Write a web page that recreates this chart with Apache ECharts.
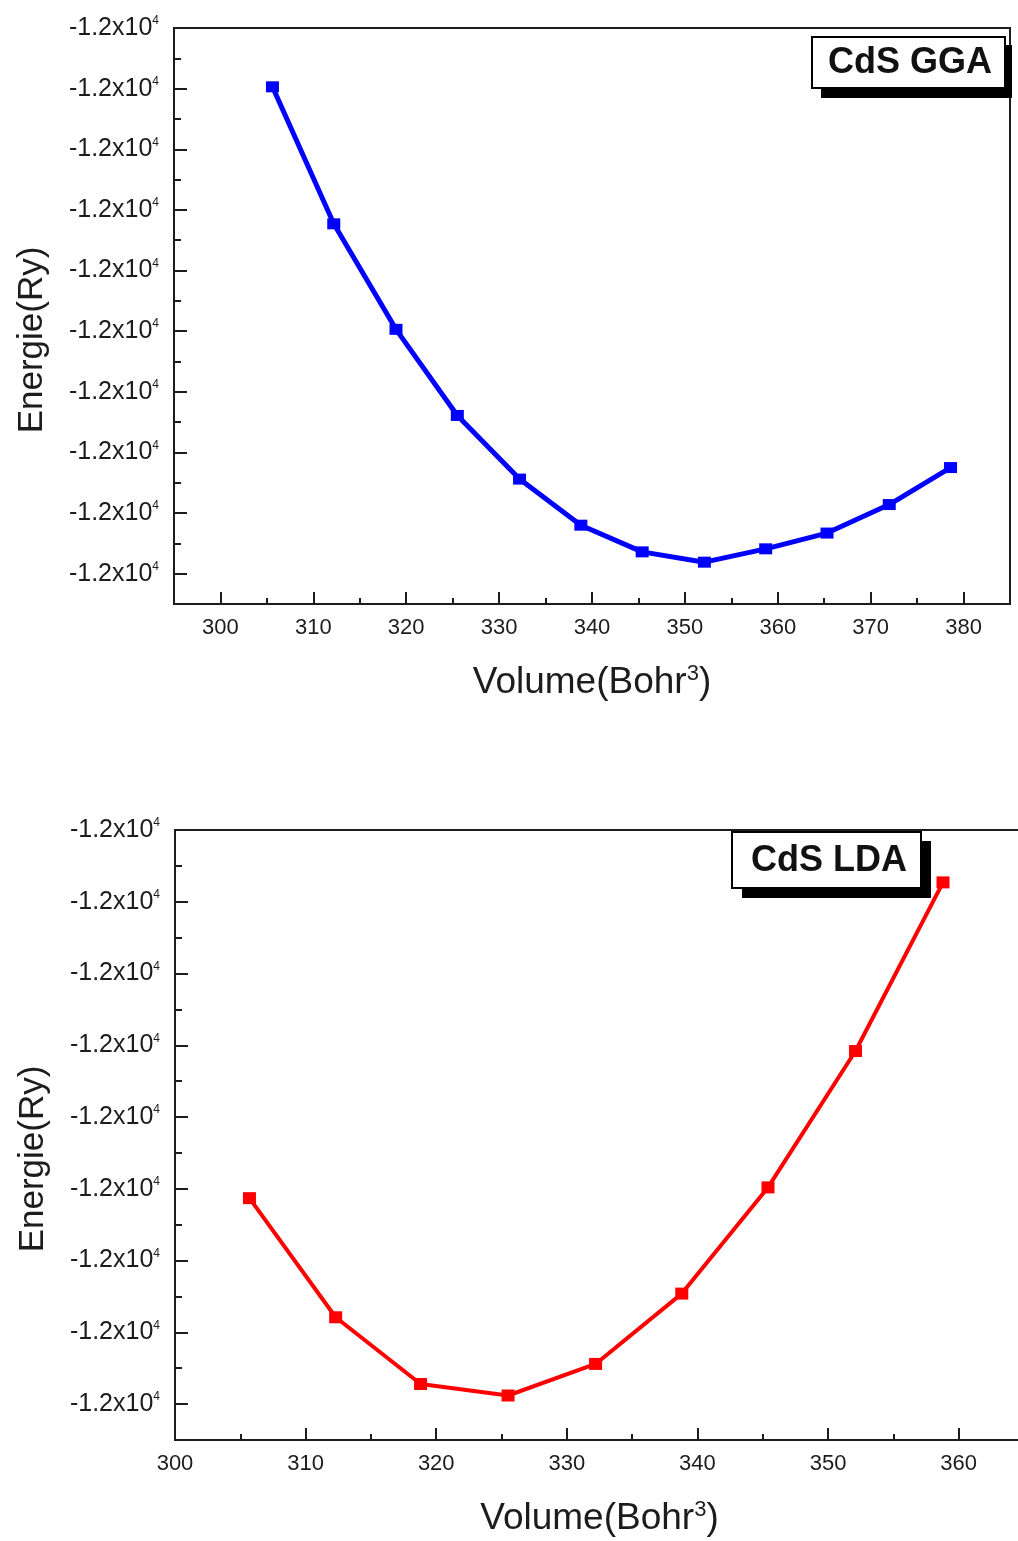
<!DOCTYPE html>
<html>
<head>
<meta charset="utf-8">
<title>CdS Energie-Volume</title>
<script src="https://cdn.jsdelivr.net/npm/echarts@6/dist/echarts.min.js"></script>
<style>
  html, body { margin: 0; padding: 0; background: #ffffff; }
  #chart { width: 1018px; height: 1541px; }
</style>
</head>
<body>
<div id="chart"></div>
<script>
// ---- GGA data (Volume in Bohr^3, total energy in Ry) ----
const volumeGGA = [305.6, 312.2, 318.9, 325.5, 332.2, 338.8, 345.4, 352.1, 358.7, 365.3, 372.0, 378.6];
const energyGGA = [-11990.0097, -11990.0323, -11990.0497, -11990.0639, -11990.0744, -11990.0820,
                   -11990.0864, -11990.0881, -11990.0859, -11990.0833, -11990.0786, -11990.0725];

// ---- LDA data ----
const volumeLDA = [305.7, 312.3, 318.8, 325.5, 332.2, 338.8, 345.4, 352.1, 358.8];
const energyLDA = [-11976.0513, -11976.0679, -11976.0772, -11976.0788, -11976.0744,
                   -11976.0646, -11976.0498, -11976.0308, -11976.0073];

// ---- axis ticks ----
const volumeTicksGGA = [300, 310, 320, 330, 340, 350, 360, 370, 380];
const volumeMinorGGA = [305, 315, 325, 335, 345, 355, 365, 375];
const energyTicksGGA = [-11990.00, -11990.01, -11990.02, -11990.03, -11990.04,
                        -11990.05, -11990.06, -11990.07, -11990.08, -11990.09];
const energyMinorGGA = [-11990.005, -11990.015, -11990.025, -11990.035, -11990.045,
                        -11990.055, -11990.065, -11990.075, -11990.085];

const volumeTicksLDA = [300, 310, 320, 330, 340, 350, 360];
const volumeMinorLDA = [305, 315, 325, 335, 345, 355];
const energyTicksLDA = [-11976.00, -11976.01, -11976.02, -11976.03, -11976.04,
                        -11976.05, -11976.06, -11976.07, -11976.08];
const energyMinorLDA = [-11976.005, -11976.015, -11976.025, -11976.035, -11976.045,
                        -11976.055, -11976.065, -11976.075];

// ---- texts ----
const energyTickMantissa = '-1.2x10';
const energyTickExponent = '4';
const xAxisTitle = 'Volume(Bohr';
const xAxisTitleExp = '3';
const yAxisTitle = 'Energie(Ry)';
const panelTitles = ['CdS GGA', 'CdS LDA'];

const FONT = '"Liberation Sans", Arial, Helvetica, sans-serif';
const INK = '#1c1c1c';

const pairs = (xs, ys) => xs.map((x, i) => [x, ys[i]]);

function majorX(gridIndex, min, max, ticks) {
  return {
    type: 'value', gridIndex, min, max, position: 'bottom',
    name: xAxisTitle + '{e|' + xAxisTitleExp + '})',
    nameLocation: 'middle', nameGap: 59, nameMoveOverlap: false,
    nameTextStyle: {
      fontFamily: FONT, fontSize: 37, color: INK, lineHeight: 40,
      rich: { e: { fontFamily: FONT, fontSize: 22, color: INK, lineHeight: 40, verticalAlign: 'top' } }
    },
    axisLine: { show: true, onZero: false, lineStyle: { color: INK, width: 2 } },
    axisTick: { show: true, inside: true, length: 12, customValues: ticks, lineStyle: { color: INK, width: 2 } },
    axisLabel: { show: true, customValues: ticks, margin: 13, fontFamily: FONT, fontSize: 22, color: INK },
    splitLine: { show: false }
  };
}
function minorX(gridIndex, min, max, ticks) {
  return {
    type: 'value', gridIndex, min, max, position: 'bottom',
    axisLine: { show: false, onZero: false },
    axisTick: { show: true, inside: true, length: 6, customValues: ticks, lineStyle: { color: INK, width: 2 } },
    axisLabel: { show: false },
    splitLine: { show: false }
  };
}
function majorY(gridIndex, min, max, ticks) {
  return {
    type: 'value', gridIndex, min, max, position: 'left',
    name: yAxisTitle, nameLocation: 'middle', nameGap: 124, nameMoveOverlap: false,
    nameTextStyle: { fontFamily: FONT, fontSize: 35, color: INK, padding: [0, 48, 0, 0] },
    axisLine: { show: true, onZero: false, lineStyle: { color: INK, width: 2 } },
    axisTick: { show: true, inside: true, length: 13, customValues: ticks, lineStyle: { color: INK, width: 2 } },
    axisLabel: {
      show: true, customValues: ticks, margin: 15,
      formatter: () => '{m|' + energyTickMantissa + '}{e|' + energyTickExponent + '}',
      rich: {
        m: { fontFamily: FONT, fontSize: 25, color: INK, lineHeight: 26, verticalAlign: 'middle' },
        e: { fontFamily: FONT, fontSize: 12, color: INK, lineHeight: 26, verticalAlign: 'top' }
      }
    },
    splitLine: { show: false }
  };
}
function minorY(gridIndex, min, max, ticks) {
  return {
    type: 'value', gridIndex, min, max, position: 'left',
    axisLine: { show: false, onZero: false },
    axisTick: { show: true, inside: true, length: 7, customValues: ticks, lineStyle: { color: INK, width: 2 } },
    axisLabel: { show: false },
    splitLine: { show: false }
  };
}

// Framed labels with a drop shadow in the upper right of each panel
function tagBox(x, y, w, h, sx, sy, sw, sh, text, cx, cy) {
  return [
    { type: 'rect', shape: { x: sx, y: sy, width: sw, height: sh }, style: { fill: '#000' }, z: 100 },
    { type: 'rect', shape: { x, y, width: w, height: h }, style: { fill: '#fff', stroke: '#000', lineWidth: 2 }, z: 101 },
    { type: 'text', x: cx, y: cy, z: 102,
      style: { text, fontFamily: FONT, fontWeight: 'bold', fontSize: 36, fill: '#111', align: 'center', verticalAlign: 'middle' } }
  ];
}

const chart = echarts.init(document.getElementById('chart'), null, { renderer: 'canvas' });
chart.setOption({
  animation: false,
  backgroundColor: '#ffffff',
  grid: [
    { left: 174, top: 28, width: 836, height: 576, show: true, borderColor: INK, borderWidth: 2,
      containLabel: false, outerBoundsMode: 'none' },
    { left: 175, top: 830, width: 849, height: 610, show: true, borderColor: INK, borderWidth: 2,
      containLabel: false, outerBoundsMode: 'none' }
  ],
  xAxis: [
    majorX(0, 295, 385, volumeTicksGGA),
    minorX(0, 295, 385, volumeMinorGGA),
    majorX(1, 300, 365, volumeTicksLDA),
    minorX(1, 300, 365, volumeMinorLDA)
  ],
  yAxis: [
    majorY(0, -11990.095, -11990.00, energyTicksGGA),
    minorY(0, -11990.095, -11990.00, energyMinorGGA),
    majorY(1, -11976.085, -11976.00, energyTicksLDA),
    minorY(1, -11976.085, -11976.00, energyMinorLDA)
  ],
  series: [
    {
      name: 'CdS GGA', type: 'line', xAxisIndex: 0, yAxisIndex: 0,
      data: pairs(volumeGGA, energyGGA),
      symbol: 'rect', symbolSize: [13, 11],
      lineStyle: { color: '#0000ff', width: 5 },
      itemStyle: { color: '#0000ff' }
    },
    {
      name: 'CdS LDA', type: 'line', xAxisIndex: 2, yAxisIndex: 2,
      data: pairs(volumeLDA, energyLDA),
      symbol: 'rect', symbolSize: [13, 12],
      lineStyle: { color: '#ff0000', width: 4 },
      itemStyle: { color: '#ff0000' }
    }
  ],
  graphic: [
    ...tagBox(812, 37, 193, 51, 821, 45, 191, 53, panelTitles[0], 910, 63),
    ...tagBox(732, 832, 189, 56, 742, 841, 189, 57, panelTitles[1], 829, 861)
  ]
});
</script>
</body>
</html>
